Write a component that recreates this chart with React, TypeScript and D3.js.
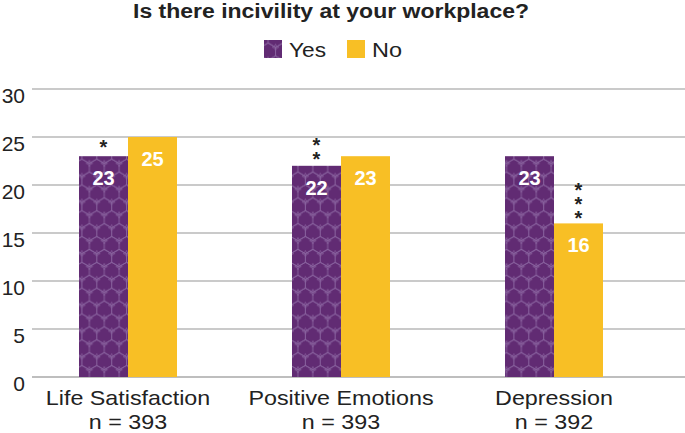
import React from "react";
import * as d3 from "d3";

const categories = ["Life Satisfaction", "Positive Emotions", "Depression"];
const sampleSizes = ["n = 393", "n = 393", "n = 392"];
const series = ["Yes", "No"];
const yesValues = [23, 22, 23];
const noValues = [25, 23, 16];
const yesStars = ["*", "**", ""];
const noStars = ["", "", "***"];
const yTicks = [0, 5, 10, 15, 20, 25, 30];

const W = 685;
const H = 433;
const PURPLE = "#612b73";
const YELLOW = "#f8bf25";
const FONT = "'Liberation Sans', Arial, sans-serif";
const SX = 1.165;

export default function App() {
  const y = d3.scaleLinear().domain([0, 30]).range([377, 89]);
  const x = d3.scaleBand().domain(categories).range([21.5, 660.5]);
  const inner = d3.scaleBand().domain(series).range([-49, 49]);
  const cx = (c: string) => (x(c) as number) + x.bandwidth() / 2;

  const r = 8.6;
  const hw = Math.sqrt(3) * r;
  const tileH = 3 * r;
  const hexPath = (hx: number, hy: number) => {
    const pts = d3.range(6).map((i) => {
      const a = ((-90 + 60 * i) * Math.PI) / 180;
      return [hx + r * Math.cos(a), hy + r * Math.sin(a)];
    });
    return "M" + pts.map((p) => p.join(",")).join("L") + "Z";
  };
  const starPath = (sx: number, sy: number, s: number) =>
    `M${sx},${sy - s}L${sx + s * 0.3},${sy - s * 0.3}L${sx + s},${sy}L${sx + s * 0.3},${sy + s * 0.3}L${sx},${sy + s}L${sx - s * 0.3},${sy + s * 0.3}L${sx - s},${sy}L${sx - s * 0.3},${sy - s * 0.3}Z`;
  const centers = [
    [0, 0], [hw, 0], [hw / 2, 1.5 * r], [0, 3 * r], [hw, 3 * r], [hw / 2, -1.5 * r],
  ];

  // stars stacked vertically in one text element (upright vertical writing)
  const renderStars = (s: string, sx: number, top: number) => {
    if (!s) return null;
    const topCenter = top - 14 - (s.length - 1) * 12;
    return (
      <text x={sx} y={topCenter - 6} fontFamily={FONT} fontWeight="bold" fontSize={20} fill="#222"
        style={{ writingMode: "vertical-rl", textOrientation: "upright", letterSpacing: "-8px" } as any}>
        {s}
      </text>
    );
  };

  return (
    <svg width={W} height={H} style={{ position: "absolute", left: 0, top: 0 }}>
      <defs>
        <pattern id="hex" patternUnits="userSpaceOnUse" width={hw} height={tileH}>
          <rect width={hw} height={tileH} fill={PURPLE} />
          {centers.map((c, i) => (
            <path key={i} d={hexPath(c[0], c[1])} fill="none" stroke="#8a64a0" strokeWidth={0.9} />
          ))}
          {centers.map((c, i) => (
            <path key={"s" + i} d={starPath(c[0], c[1] + r, 3.2)} fill="none" stroke="#8a64a0" strokeWidth={0.7} />
          ))}
        </pattern>
      </defs>
      <rect width={W} height={H} fill="#fff" />
      <text x={133} y={17.5} textLength={396} lengthAdjust="spacingAndGlyphs" fontFamily={FONT}
        fontWeight="bold" fontSize={20} fill="#222">
        Is there incivility at your workplace?
      </text>
      <rect x={264} y={40} width={18} height={18} fill="url(#hex)" />
      <text x={289} y={57} textLength={37} lengthAdjust="spacingAndGlyphs" fontFamily={FONT} fontSize={21} fill="#222">Yes</text>
      <rect x={347} y={40} width={18} height={18} fill={YELLOW} />
      <text x={372} y={57} textLength={30} lengthAdjust="spacingAndGlyphs" fontFamily={FONT} fontSize={21} fill="#222">No</text>

      {yTicks.map((t) => (
        <g key={t}>
          <line x1={32} x2={685} y1={y(t)} y2={y(t)} stroke={t === 0 ? "#a8a8a8" : "#b8b8b8"} strokeWidth={1.6} />
          <text x={25} y={y(t) + 14} textAnchor="end" fontFamily={FONT} fontSize={21} fill="#222">{t}</text>
        </g>
      ))}

      {categories.map((c, i) => {
        const bw = inner.bandwidth();
        const yx = cx(c) + (inner("Yes") as number);
        const nx = cx(c) + (inner("No") as number);
        return (
          <g key={c}>
            <rect x={yx} y={y(yesValues[i])} width={bw} height={y(0) - y(yesValues[i])} fill="url(#hex)" />
            <rect x={nx} y={y(noValues[i])} width={bw} height={y(0) - y(noValues[i])} fill={YELLOW} />
            <text x={yx + bw / 2} y={y(yesValues[i]) + 29} textAnchor="middle" fontFamily={FONT}
              fontWeight="bold" fontSize={20} fill="#fff">{yesValues[i]}</text>
            <text x={nx + bw / 2} y={y(noValues[i]) + 29} textAnchor="middle" fontFamily={FONT}
              fontWeight="bold" fontSize={20} fill="#fff">{noValues[i]}</text>
            {renderStars(yesStars[i], yx + bw / 2, y(yesValues[i]))}
            {renderStars(noStars[i], nx + bw / 2, y(noValues[i]))}
            <text transform={`translate(${cx(c)},405) scale(${SX},1)`} textAnchor="middle" fontFamily={FONT}
              fontSize={20} fill="#222">{c}</text>
            <text transform={`translate(${cx(c)},429) scale(${SX},1)`} textAnchor="middle" fontFamily={FONT}
              fontSize={20} fill="#222">{sampleSizes[i]}</text>
          </g>
        );
      })}
    </svg>
  );
}
